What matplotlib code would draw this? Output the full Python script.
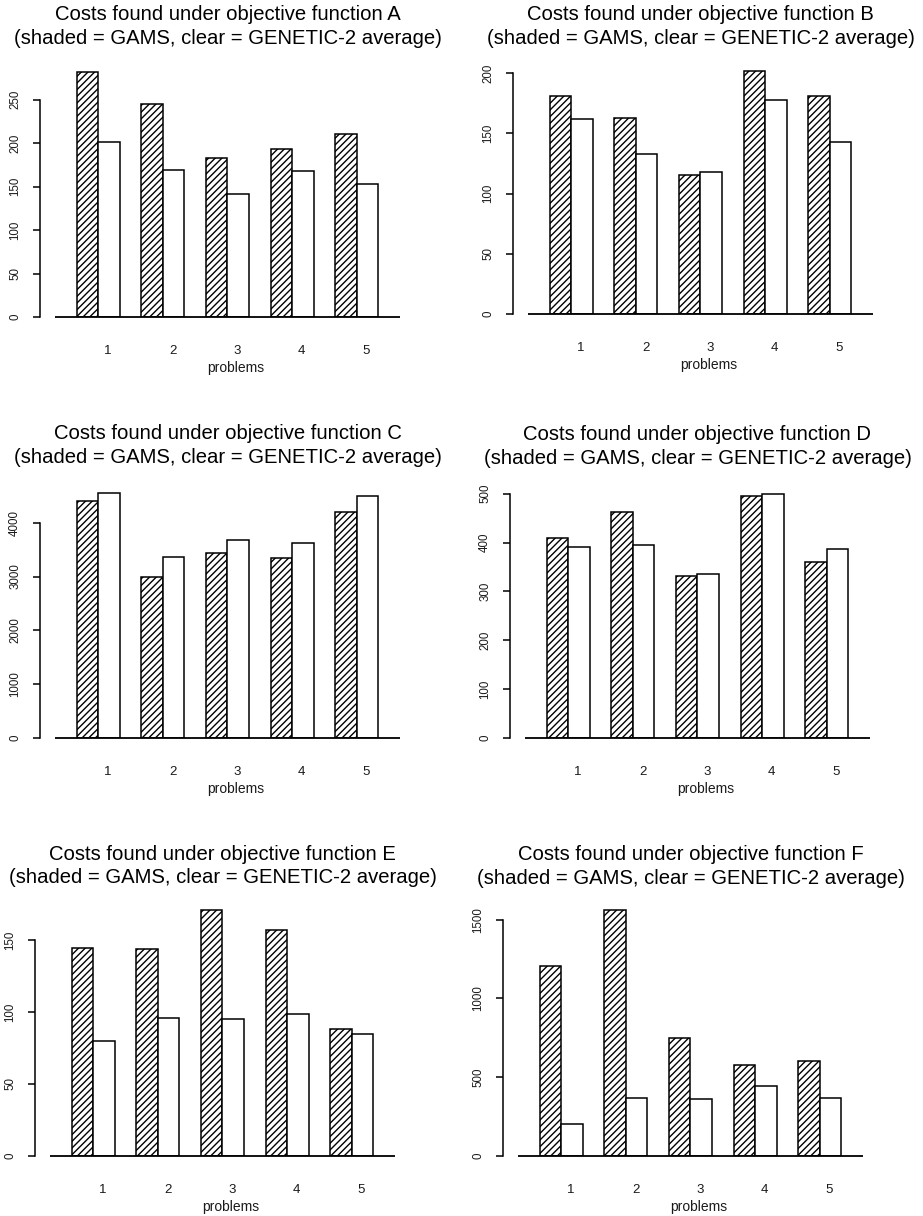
import matplotlib
matplotlib.use("Agg")
import matplotlib.pyplot as plt
import numpy as np

plt.rcParams["font.family"] = ["Liberation Sans", "DejaVu Sans"]
plt.rcParams["hatch.linewidth"] = 1.0

W, H = 923, 1216
DPI = 100

problems = ["1", "2", "3", "4", "5"]
functions = ["A", "B", "C", "D", "E", "F"]

# costs per problem: GAMS (shaded) and GENETIC-2 average (clear)
gams_a = [282, 245, 183, 193, 211]
gen2_a = [201, 169, 141, 168, 153]
gams_b = [181, 163, 115, 202, 181]
gen2_b = [162, 133, 118, 178, 143]
gams_c = [4400, 3000, 3440, 3340, 4200]
gen2_c = [4560, 3360, 3680, 3630, 4490]
gams_d = [409, 463, 332, 495, 361]
gen2_d = [391, 395, 336, 499, 386]
gams_e = [144.7, 143.7, 170.6, 157, 88.4]
gen2_e = [79.6, 95.8, 95.4, 98.8, 84.7]
gams_f = [1204, 1563, 749, 580, 603]
gen2_f = [205, 368, 360, 442, 368]

yticks_a = [0, 50, 100, 150, 200, 250]
yticks_b = [0, 50, 100, 150, 200]
yticks_c = [0, 1000, 2000, 3000, 4000]
yticks_d = [0, 100, 200, 300, 400, 500]
yticks_e = [0, 50, 100, 150]
yticks_f = [0, 500, 1000, 1500]

gams = [gams_a, gams_b, gams_c, gams_d, gams_e, gams_f]
gen2 = [gen2_a, gen2_b, gen2_c, gen2_d, gen2_e, gen2_f]
yticks = [yticks_a, yticks_b, yticks_c, yticks_d, yticks_e, yticks_f]

# panel placement (pixels): y-axis x, baseline y, pixels per cost unit, title y
layout = [
    (40, 317, 0.869, 15),
    (513, 314, 1.205, 15),
    (40, 738, 0.05383, 434),
    (510, 738, 0.4887, 435),
    (35, 1156, 1.44, 854),
    (503, 1156, 0.15757, 855),
]

BAR_PX = 21.55          # pixels per bar width
XMIN, XMAX = -0.7, 16.5
INK = "#1a1a1a"

fig = plt.figure(figsize=(W / DPI, H / DPI), dpi=DPI)

for i, name in enumerate(functions):
    spine_x, zero_y, ppu, title_y = layout[i]
    g, c = gams[i], gen2[i]
    top = max(max(g), max(c), yticks[i][-1]) * 1.03

    left = spine_x / W
    bottom = 1 - zero_y / H
    width = (XMAX - XMIN) * BAR_PX / W
    height = top * ppu / H
    ax = fig.add_axes([left, bottom, width, height])

    n = np.arange(1, len(problems) + 1)
    ax.bar(3 * n - 2, g, width=1, align="edge", facecolor="white",
           edgecolor="black", hatch="/////", linewidth=1.1)
    ax.bar(3 * n - 1, c, width=1, align="edge", facecolor="white",
           edgecolor="black", linewidth=1.1)
    ax.hlines(0, 0, 16, color="black", linewidth=1.3, clip_on=False)

    ax.set_xlim(XMIN, XMAX)
    ax.set_ylim(0, top)
    for s in ("top", "right", "bottom"):
        ax.spines[s].set_visible(False)
    ax.spines["left"].set_bounds(0, yticks[i][-1])
    ax.spines["left"].set_linewidth(1.1)

    ax.set_yticks(yticks[i])
    ax.set_yticklabels([str(v) for v in yticks[i]], rotation=90, va="center",
                       fontsize=8.3, color=INK)
    ax.tick_params(axis="y", length=5, width=1.1, pad=8.5)

    ax.set_xticks(3 * n - 0.55)
    ax.set_xticklabels(problems, fontsize=9.5, color=INK)
    ax.tick_params(axis="x", length=0, pad=20)

    ax.annotate("problems", xy=(8.4, 0), xytext=(0, -36.7),
                textcoords="offset points", ha="center", va="center",
                fontsize=10, color=INK, annotation_clip=False)

    cx = (spine_x + (0 - XMIN) * BAR_PX + 8 * BAR_PX) / W
    fig.text(cx, 1 - title_y / H,
             f"Costs found under objective function {name}",
             ha="center", va="center", fontsize=14.6)
    fig.text(cx, 1 - (title_y + 23.5) / H,
             "(shaded = GAMS, clear = GENETIC-2 average)",
             ha="center", va="center", fontsize=14.6)

fig.savefig("out.png", dpi=DPI, facecolor="white")
